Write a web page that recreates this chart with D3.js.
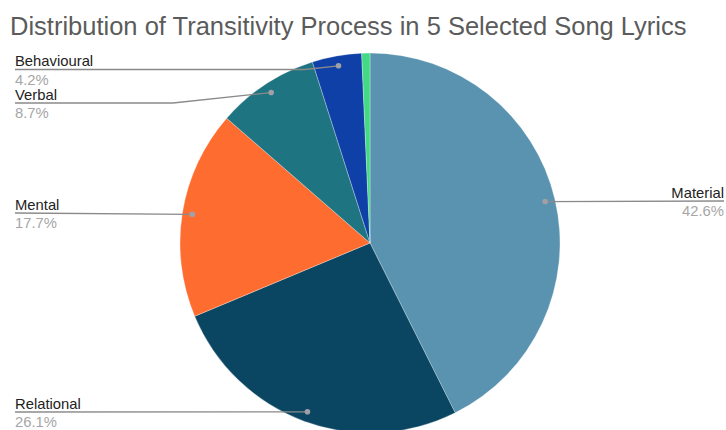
<!DOCTYPE html>
<html><head><meta charset="utf-8">
<script src="https://cdn.jsdelivr.net/npm/d3@7"></script>
<style>body{margin:0;background:#fff}svg{display:block}</style>
</head><body><svg id="c" width="726" height="430"></svg>
<script>
const categories = ["Material","Relational","Mental","Verbal","Behavioural","Existential"];
const values = [42.6, 26.1, 17.7, 8.7, 4.2, 0.7];
const colors = ["#5a93b0","#0a4662","#ff6c2f","#1f7482","#0e40a8","#43d985"];
const labelShown = [true,true,true,true,true,false];
// label layout: side and y of leader line (layout only)
const labelLayout = {
  Material:{side:"right", y:201},
  Relational:{side:"left", y:412},
  Mental:{side:"left", y:213},
  Verbal:{side:"left", y:103, elbow:173},
  Behavioural:{side:"left", y:69.5, elbow:305}
};
const title = "Distribution of Transitivity Process in 5 Selected Song Lyrics";

const svg = d3.select("#c");
const cx = 370, cy = 243, R = 190;
const pie = d3.pie().sort(null).value(d=>d.v);
const data = categories.map((c,i)=>({c, v:values[i], col:colors[i], show:labelShown[i]}));
const arcs = pie(data);
const arc = d3.arc().innerRadius(0).outerRadius(R);
const dotArc = d3.arc().innerRadius(180).outerRadius(180);
const g = svg.append("g").attr("transform",`translate(${cx},${cy})`);
g.selectAll("path").data(arcs).join("path")
  .attr("d",arc).attr("fill",d=>d.data.col)
  .attr("stroke","#fff").attr("stroke-width",0.3);

svg.append("text").attr("x",10).attr("y",35)
  .attr("font-family","Liberation Sans, Arial, sans-serif")
  .attr("font-size",25.5).attr("fill","#5b5b5b").text(title);

const lab = svg.append("g");
arcs.filter(a=>a.data.show).forEach(a=>{
  const [dx,dy] = dotArc.centroid(a);
  const px = cx+dx, py = cy+dy;
  const L = labelLayout[a.data.c];
  let pts;
  if (L.side==="right") pts = [[px,py],[724,L.y]];
  else if (L.elbow) pts = [[15,L.y],[L.elbow,L.y],[px,py]];
  else pts = [[15,L.y],[px,py]];
  lab.append("path").attr("d",d3.line()(pts)).attr("fill","none")
    .attr("stroke","#8a8a8a").attr("stroke-width",1.3);
  lab.append("circle").attr("cx",px).attr("cy",py).attr("r",2.8).attr("fill","#a0a0a8");
  const anchor = L.side==="right"?"end":"start";
  const tx = L.side==="right"?724:15;
  lab.append("text").attr("x",tx).attr("y",L.y-3.5).attr("text-anchor",anchor)
    .attr("font-family","Liberation Sans, Arial, sans-serif").attr("font-size",14.8)
    .attr("fill","#222").text(a.data.c);
  lab.append("text").attr("x",tx).attr("y",L.y+15).attr("text-anchor",anchor)
    .attr("font-family","Liberation Sans, Arial, sans-serif").attr("font-size",14.8)
    .attr("fill","#a6a6a6").text(a.data.v.toFixed(1)+"%");
});
</script></body></html>
